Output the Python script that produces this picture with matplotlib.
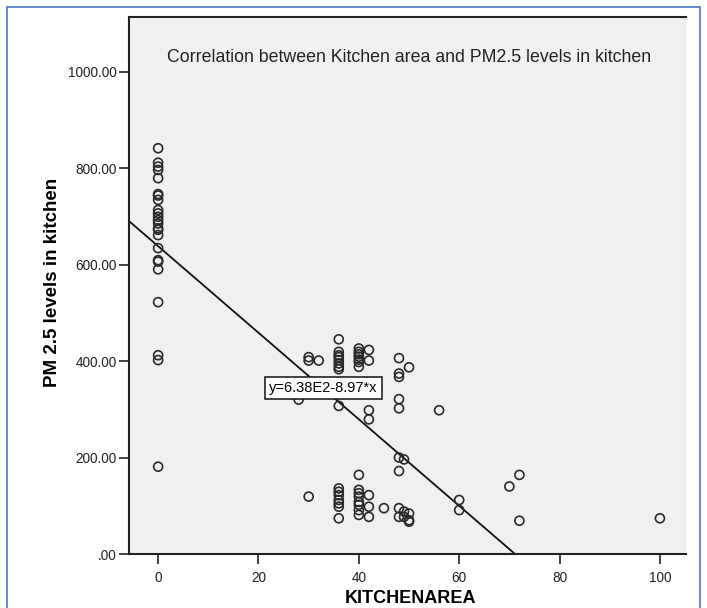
import matplotlib
matplotlib.use('Agg')
import matplotlib.pyplot as plt
import matplotlib.patches as mpatches
import numpy as np

plt.rcParams['font.family'] = ['Liberation Sans', 'DejaVu Sans']

# Data (kitchen area, PM2.5 in kitchen)
area_0 = [0] * 24
pm_0 = [841, 811, 803, 796, 779, 746, 743, 734, 713, 706, 699, 692,
        685, 675, 672, 661, 634, 609, 606, 590, 522, 412, 402, 181]
area_mid = [28, 30, 30, 30, 32,
            36, 36, 36, 36, 36, 36, 36, 36, 36, 36, 36, 36, 36, 36, 36, 36,
            40, 40, 40, 40, 40, 40, 40, 40, 40, 40, 40, 40, 40, 40, 40,
            42, 42, 42, 42, 42, 42, 42, 45]
pm_mid = [320, 408, 401, 119, 401,
          445, 419, 412, 408, 402, 395, 388, 383, 307, 136, 129, 122, 112, 105, 98, 74,
          426, 419, 414, 409, 403, 398, 388, 164, 133, 126, 119, 108, 102, 91, 81,
          423, 401, 298, 279, 122, 98, 77, 95]
area_hi = [48, 48, 48, 48, 48, 48, 48, 48, 48, 49, 49, 49,
           50, 50, 50, 50, 56, 60, 60, 70, 72, 72, 100]
pm_hi = [406, 374, 367, 321, 302, 200, 172, 95, 77, 196, 88, 77,
         387, 84, 70, 67, 298, 112, 91, 140, 164, 69, 74]

kitchen_area = area_0 + area_mid + area_hi
pm25 = pm_0 + pm_mid + pm_hi

# Fit line as printed on the chart
intercept = 638.0
slope = -8.97
fit_label = "y=6.38E2-8.97*x"
title = "Correlation between Kitchen area and PM2.5 levels in kitchen"

fig = plt.figure(figsize=(7.07, 6.08), dpi=100)
fig.patch.set_facecolor('white')

# blue frame around the figure
frame = mpatches.Rectangle((7 / 707, -0.1), 693 / 707, 1.1 - 7 / 608,
                           transform=fig.transFigure, fill=False,
                           edgecolor='#4b74c6', linewidth=1.2, clip_on=False)
fig.patches.append(frame)

ax = fig.add_axes([0.1825, 0.0888, 0.7878, 0.8832])
ax.set_facecolor('#f0f0f0')

ax.scatter(kitchen_area, pm25, s=42, facecolors='none', edgecolors='#2a2a2a',
           linewidths=1.2, zorder=3)

x_line = np.array([-6.0, -intercept / slope])
ax.plot(x_line, intercept + slope * x_line, color='#111111', linewidth=1.3, zorder=2)

ax.text(32.9, 344, fit_label, ha='center', va='center', fontsize=10.5, zorder=4,
        bbox=dict(boxstyle='square,pad=0.3', facecolor='white', edgecolor='#111111', linewidth=1.1))

ax.text(0.503, 0.924, title, transform=ax.transAxes, ha='center', va='center',
        fontsize=12.8, color='#222222')

ax.set_xlim(-5.8, 105.2)
ax.set_ylim(0, 1113)
ax.set_xticks([0, 20, 40, 60, 80, 100])
ax.set_yticks([0, 200, 400, 600, 800, 1000])
ax.set_yticklabels(['.00', '200.00', '400.00', '600.00', '800.00', '1000.00'])

ax.spines['right'].set_visible(False)
for s in ['left', 'bottom', 'top']:
    ax.spines[s].set_linewidth(1.5)
    ax.spines[s].set_color('#222222')
ax.tick_params(direction='out', length=7, width=1.2, pad=2, labelsize=9.8, colors='#222222')
ax.tick_params(axis='x', pad=5)

ax.set_xlabel('KITCHENAREA', fontsize=13, fontweight='bold', va='center')
ax.set_ylabel('PM 2.5 levels in kitchen', fontsize=13.5, fontweight='bold', va='center')
ax.xaxis.set_label_coords(0.506, -0.082)
ax.yaxis.set_label_coords(-0.138, 0.506)

fig.savefig('out.png', dpi=100, facecolor='white')
